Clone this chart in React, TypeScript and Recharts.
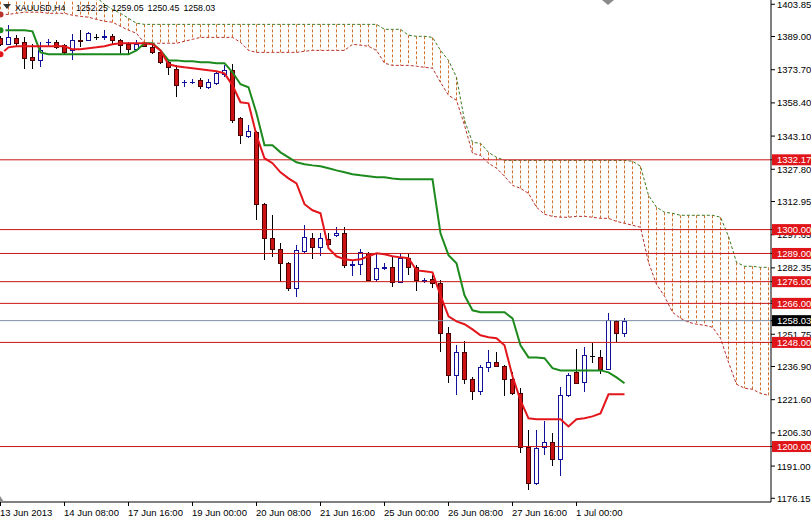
import React from 'react';
import { ComposedChart, Bar, Line, XAxis, YAxis, ReferenceLine } from 'recharts';

const FONT = '"Liberation Sans", Arial, sans-serif';

// time axis: one label every 8 H4 bars
const timeTicks = [0, 8, 16, 24, 32, 40, 48, 56, 64, 72];
const timeLabels = [
  '13 Jun 2013', '14 Jun 08:00', '17 Jun 16:00', '19 Jun 00:00', '20 Jun 08:00',
  '21 Jun 16:00', '25 Jun 00:00', '26 Jun 08:00', '27 Jun 16:00', '1 Jul 00:00',
];

const priceTicks = [
  1403.85, 1389.0, 1373.7, 1358.4, 1343.1, 1327.8, 1312.95, 1297.65,
  1282.35, 1267.05, 1251.75, 1236.9, 1221.6, 1206.3, 1191.0, 1176.15,
];

// OHLC of XAUUSD H4 bars
const opens = [
  1388.5, 1385.7, 1388.3, 1386.5, 1379.6, 1378.4, 1386.3, 1386.5, 1385.0, 1382.6,
  1387.3, 1387.3, 1388.8, 1388.9, 1389.1, 1387.3, 1385.7, 1383.4, 1385.4, 1384.2,
  1381.9, 1377.3, 1374.2, 1367.9, 1367.9, 1368.8, 1365.7, 1367.4, 1371.6, 1373.4,
  1351.3, 1343.0, 1344.9, 1311.7, 1296.0, 1290.9, 1284.5, 1272.9, 1290.0, 1296.0,
  1291.8, 1295.5, 1297.4, 1298.3, 1283.8, 1284.0, 1289.1, 1277.1, 1282.4, 1282.6,
  1275.7, 1286.8, 1282.6, 1276.4, 1277.1, 1275.2, 1252.2, 1232.8, 1243.4, 1231.0,
  1225.5, 1236.5, 1238.8, 1237.0, 1231.0, 1224.5, 1199.7, 1183.1, 1199.7, 1202.0,
  1194.1, 1223.6, 1234.2, 1229.6, 1241.8, 1241.1, 1235.6, 1257.7, 1252.25,
];
const highs = [
  1389.1, 1394.2, 1389.6, 1388.8, 1385.7, 1386.5, 1388.0, 1387.6, 1385.7, 1390.3,
  1392.2, 1391.1, 1390.3, 1391.9, 1390.3, 1388.0, 1386.5, 1387.3, 1386.3, 1385.7,
  1382.6, 1378.0, 1375.7, 1368.8, 1369.3, 1370.1, 1369.3, 1372.6, 1375.7, 1376.5,
  1351.8, 1348.1, 1345.3, 1312.1, 1306.6, 1293.7, 1284.9, 1292.8, 1302.0, 1298.3,
  1298.3, 1298.3, 1301.1, 1301.1, 1285.4, 1290.9, 1289.5, 1289.1, 1284.5, 1287.2,
  1289.1, 1289.1, 1283.5, 1277.5, 1278.9, 1276.6, 1255.0, 1246.7, 1248.5, 1231.9,
  1237.5, 1244.4, 1243.4, 1237.5, 1234.2, 1226.9, 1207.5, 1207.5, 1211.6, 1206.1,
  1227.3, 1233.8, 1244.8, 1245.7, 1247.6, 1244.4, 1261.4, 1258.2, 1259.05,
];
const lows = [
  1384.5, 1385.4, 1384.2, 1374.2, 1374.2, 1375.0, 1384.2, 1383.4, 1381.1, 1378.0,
  1384.2, 1386.9, 1387.6, 1387.6, 1385.7, 1381.1, 1381.1, 1382.6, 1384.0, 1381.1,
  1376.5, 1371.1, 1361.1, 1365.7, 1367.0, 1365.0, 1364.7, 1366.5, 1370.2, 1349.0,
  1339.3, 1342.1, 1304.3, 1285.9, 1287.2, 1275.7, 1271.6, 1268.8, 1289.1, 1286.3,
  1287.7, 1292.3, 1296.5, 1282.2, 1278.5, 1278.9, 1276.2, 1275.7, 1281.2, 1273.4,
  1275.2, 1278.9, 1271.6, 1275.2, 1272.9, 1243.4, 1229.2, 1223.6, 1228.7, 1221.3,
  1223.6, 1234.2, 1236.5, 1223.2, 1223.6, 1196.9, 1179.8, 1182.1, 1196.0, 1190.9,
  1186.3, 1222.7, 1228.7, 1225.0, 1238.4, 1233.3, 1235.1, 1248.1, 1250.45,
];
const closes = [
  1385.4, 1388.8, 1386.0, 1379.3, 1378.4, 1383.0, 1386.7, 1384.2, 1381.9, 1387.6,
  1387.0, 1390.6, 1388.6, 1389.1, 1387.3, 1385.0, 1383.4, 1385.7, 1384.5, 1381.9,
  1377.3, 1375.0, 1366.5, 1368.0, 1368.1, 1366.1, 1368.0, 1372.0, 1373.4, 1350.4,
  1343.5, 1345.3, 1311.7, 1296.0, 1290.9, 1284.5, 1272.9, 1290.5, 1296.5, 1291.8,
  1296.0, 1293.2, 1298.3, 1283.5, 1284.0, 1289.5, 1276.6, 1282.2, 1282.6, 1275.7,
  1286.8, 1282.6, 1276.6, 1276.6, 1275.2, 1252.2, 1232.8, 1243.4, 1231.0, 1225.5,
  1236.5, 1238.8, 1237.0, 1231.0, 1224.5, 1199.7, 1183.1, 1199.2, 1202.0, 1194.1,
  1223.6, 1232.8, 1229.2, 1242.1, 1241.6, 1235.6, 1258.2, 1252.2, 1258.03,
];

// Ichimoku
const tenkan = [
  1380.8, 1384.0, 1384.5, 1384.5, 1384.5, 1384.5, 1384.5, 1384.5, 1384.5, 1383.1,
  1383.1, 1383.6, 1384.0, 1384.5, 1385.4, 1385.9, 1385.9, 1385.9, 1385.9, 1385.4,
  1382.6, 1376.2, 1375.3, 1374.8, 1374.4, 1373.9, 1373.4, 1373.0, 1372.0, 1366.5,
  1358.7, 1358.2, 1343.5, 1332.9, 1330.6, 1326.4, 1323.6, 1321.3, 1311.7, 1308.9,
  1307.5, 1291.4, 1287.7, 1286.3, 1285.9, 1286.3, 1287.7, 1289.1, 1288.6, 1287.7,
  1287.2, 1286.8, 1281.2, 1280.8, 1280.3, 1269.7, 1260.0, 1257.7, 1256.4, 1254.0,
  1251.3, 1250.4, 1249.9, 1246.7, 1232.4, 1221.3, 1213.0, 1212.6, 1212.6, 1212.6,
  1212.6, 1209.3, 1212.6, 1213.0, 1213.9, 1215.3, 1224.1, 1224.1, 1224.1,
];
const kijun = [
  1391.9, 1391.9, 1391.9, 1391.9, 1391.4, 1381.7, 1380.8, 1380.8, 1380.8, 1380.8,
  1380.8, 1380.8, 1380.8, 1380.8, 1380.8, 1380.8, 1380.8, 1382.6, 1385.9, 1385.9,
  1382.6, 1378.0, 1378.0, 1377.6, 1377.6, 1377.1, 1377.1, 1376.7, 1376.7, 1372.5,
  1367.0, 1365.6, 1353.6, 1338.9, 1338.9, 1335.6, 1333.3, 1331.0, 1330.1, 1329.6,
  1329.2, 1328.3, 1327.3, 1326.4, 1325.5, 1325.0, 1324.6, 1324.1, 1324.1, 1323.6,
  1323.2, 1323.2, 1323.2, 1323.2, 1323.2, 1298.3, 1288.2, 1284.5, 1269.7, 1262.8,
  1261.9, 1261.9, 1261.9, 1261.9, 1259.1, 1246.7, 1241.1, 1241.1, 1240.7, 1236.1,
  1235.1, 1235.1, 1235.1, 1235.1, 1235.1, 1235.1, 1234.2, 1231.9, 1229.2,
];
// cloud edges (shifted 26 bars ahead)
const spanA = [
  1412.0, 1412.0, 1412.0, 1412.0, 1412.0, 1412.0, 1412.0, 1412.0, 1412.0, 1412.0,
  1412.0, 1412.0, 1407.1, 1403.8, 1401.5, 1399.7, 1397.4, 1395.1, 1394.6, 1394.6,
  1394.6, 1394.6, 1394.6, 1394.6, 1394.6, 1394.6, 1394.6, 1394.6, 1394.6, 1394.6,
  1394.6, 1394.6, 1394.6, 1394.6, 1394.6, 1394.6, 1394.6, 1394.6, 1394.6, 1394.6,
  1394.6, 1394.6, 1394.6, 1394.6, 1394.6, 1394.6, 1394.6, 1394.6, 1392.3, 1392.3,
  1392.3, 1389.6, 1389.1, 1389.1, 1388.6, 1382.6, 1378.0, 1370.2, 1350.4, 1340.2,
  1339.8, 1335.6, 1333.3, 1331.9, 1331.9, 1331.9, 1331.9, 1331.9, 1331.9, 1331.9,
  1331.9, 1331.9, 1331.9, 1331.9, 1331.9, 1331.9, 1331.9, 1331.9, 1331.9, 1331.5,
  1329.2, 1315.8, 1310.3, 1308.0, 1307.5, 1306.6, 1306.6, 1306.6, 1306.6, 1306.6,
  1305.7, 1296.9, 1284.9, 1283.1, 1283.1, 1282.6, 1282.6,
];
const spanB = [
  1399.2, 1399.2, 1399.7, 1400.2, 1400.2, 1400.2, 1399.7, 1399.7, 1399.7, 1398.8,
  1398.3, 1397.9, 1396.9, 1396.0, 1395.6, 1393.7, 1391.9, 1390.5, 1385.9, 1385.9,
  1385.9, 1385.9, 1385.9, 1386.8, 1387.7, 1388.6, 1388.6, 1388.6, 1388.6, 1388.6,
  1386.3, 1382.6, 1381.7, 1381.7, 1381.7, 1381.7, 1381.7, 1381.7, 1382.2, 1382.6,
  1382.6, 1382.6, 1382.6, 1382.6, 1385.4, 1385.0, 1384.5, 1382.6, 1376.7, 1375.7,
  1375.7, 1375.7, 1375.3, 1374.8, 1374.4, 1367.9, 1361.9, 1359.6, 1348.1, 1335.2,
  1334.2, 1330.6, 1328.3, 1324.6, 1320.4, 1319.0, 1316.7, 1310.3, 1307.1, 1306.1,
  1305.7, 1305.7, 1306.1, 1306.1, 1305.7, 1305.2, 1305.2, 1303.8, 1302.9, 1302.0,
  1301.1, 1284.9, 1274.8, 1269.3, 1261.9, 1259.1, 1257.3, 1256.4, 1255.9, 1255.0,
  1249.9, 1238.8, 1228.7, 1226.9, 1226.4, 1224.5, 1223.6,
];

const levels = [1332.17, 1300.0, 1289.0, 1276.0, 1266.0, 1248.0, 1200.0];
const lastPrice = 1258.03;
const symbol = 'XAUUSD,H4';
const lastBar = ['1252.25', '1259.05', '1250.45', '1258.03'];

const data = spanA.map((a, i) => ({
  i,
  a,
  b: spanB[i],
  o: i < opens.length ? opens[i] : null,
  h: i < highs.length ? highs[i] : null,
  l: i < lows.length ? lows[i] : null,
  c: i < closes.length ? closes[i] : null,
  tenkan: i < tenkan.length ? tenkan[i] : null,
  kijun: i < kijun.length ? kijun[i] : null,
}));

function Candle(props: any) {
  const { x, y, width, height, payload } = props;
  if (!payload || payload.o == null || !isFinite(y) || !isFinite(height)) return null;
  const { o, h, l, c } = payload;
  const top = Math.min(y, y + height);
  const bot = Math.max(y, y + height);
  const k = h === l ? 0 : (bot - top) / (h - l);
  const py = (v: number) => top + (h - v) * k;
  const cx = Math.floor(x + width / 2) + 0.5;
  const up = c >= o;
  const edge = up ? '#10109a' : '#000000';
  const yT = Math.round(py(Math.max(o, c)));
  const yB = Math.round(py(Math.min(o, c)));
  return (
    <g>
      <line x1={cx} x2={cx} y1={Math.round(py(h))} y2={Math.round(py(l))} stroke={edge} strokeWidth={1} />
      {yB - yT < 1 ? (
        <line x1={cx - 2.5} x2={cx + 2.5} y1={yT + 0.5} y2={yT + 0.5} stroke={edge} strokeWidth={1} />
      ) : (
        <rect x={cx - 2} y={yT + 0.5} width={4} height={yB - yT} fill={up ? '#ffffff' : '#cc1212'} stroke={up ? edge : '#4a0000'} strokeWidth={1} />
      )}
    </g>
  );
}

function Hatch(props: any) {
  const { x, y, width, height } = props;
  if (!isFinite(y) || !isFinite(height)) return null;
  const cx = Math.floor(x + width / 2) + 0.5;
  return <line x1={cx} x2={cx} y1={y} y2={y + height} stroke="#d2722e" strokeWidth={1} strokeDasharray="3 2" />;
}

// right scale: plain ticks first, then the red / black price boxes on top
const PriceTick = (p: any) => {
  const v = Number(p.payload.value);
  const isLast = v === lastPrice;
  if (isLast || levels.includes(v)) {
    return (
      <g>
        <rect x={p.x - 5} y={p.y - 5.5} width={40} height={11} fill={isLast ? '#000000' : '#e0151a'} />
        <text x={p.x} y={p.y + 3.5} fontSize={9.5} fontFamily={FONT} fill="#fff" textAnchor="start">
          {v.toFixed(2)}
        </text>
      </g>
    );
  }
  return (
    <text x={p.x} y={p.y + 3.5} fontSize={9.5} fontFamily={FONT} fill="#000" textAnchor="start">
      {v.toFixed(2)}
    </text>
  );
};

const TimeTick = (p: any) => (
  <text x={p.x - 0.5} y={p.y + 7.5} fontSize={9.5} fontFamily={FONT} fill="#000" textAnchor="start">
    {timeLabels[timeTicks.indexOf(p.payload.value)]}
  </text>
);

export default function App() {
  return (
    <div style={{ position: 'absolute', left: 0, top: 0, width: 811, height: 518, background: '#fff' }}>
      <ComposedChart width={811} height={518} data={data} margin={{ top: 0, right: 0, bottom: 0, left: 0 }}>
        <XAxis
          dataKey="i"
          type="number"
          domain={[-0.0625, 96.3125]}
          allowDataOverflow
          ticks={timeTicks}
          interval={0}
          height={16}
          tickSize={4}
          tickMargin={2}
          stroke="#000"
          tick={<TimeTick />}
        />
        <XAxis xAxisId="k" dataKey="i" type="number" domain={[-0.0625, 96.3125]} allowDataOverflow hide />
        <YAxis
          orientation="right"
          type="number"
          domain={[1174.44, 1405.83]}
          allowDataOverflow
          ticks={[...priceTicks, ...levels, lastPrice]}
          interval={0}
          width={40}
          tickSize={4}
          tickMargin={2}
          stroke="#000"
          tick={<PriceTick />}
        />

        {/* cloud */}
        <Bar xAxisId="k" dataKey={(d: any) => [d.b, d.a]} barSize={1} shape={<Hatch />} isAnimationActive={false} />
        <Line dataKey="a" type="linear" stroke="#3f7a22" strokeWidth={1} strokeDasharray="3 2" dot={false} isAnimationActive={false} />
        <Line dataKey="b" type="linear" stroke="#b8332a" strokeWidth={1} strokeDasharray="3 2" dot={false} isAnimationActive={false} />

        {/* levels */}
        {levels.map((v) => (
          <ReferenceLine key={v} y={v} stroke="#c81414" strokeWidth={1} />
        ))}
        <ReferenceLine y={lastPrice} stroke="#7f8ea3" strokeWidth={1} />

        {/* candles */}
        <Bar
          dataKey={(d: any) => (d.o == null ? null : [d.l, d.h])}
          barSize={5}
          shape={<Candle />}
          isAnimationActive={false}
        />

        {/* tenkan / kijun */}
        <Line dataKey="kijun" type="linear" stroke="#1d8a1d" strokeWidth={2} dot={false} isAnimationActive={false} />
        <Line dataKey="tenkan" type="linear" stroke="#e3161c" strokeWidth={2} dot={false} isAnimationActive={false} />
      </ComposedChart>

      <svg width={811} height={518} style={{ position: 'absolute', left: 0, top: 0, pointerEvents: 'none' }}>
        <polygon points="3,4 11,4 7,9" fill="#333" />
        <text y={11} fontSize={8.8} fontFamily={FONT} fill="#000">
          <tspan x={15}>{symbol}</tspan>
          {lastBar.map((t, k) => (
            <tspan key={k} x={76 + k * 35.8}>{t}</tspan>
          ))}
        </text>
        <polygon points="602,0 614,0 608,5" fill="#8a8a8a" />
        <polygon points="0,496 4,502 0,502" fill="#8a8a8a" />
      </svg>
    </div>
  );
}
